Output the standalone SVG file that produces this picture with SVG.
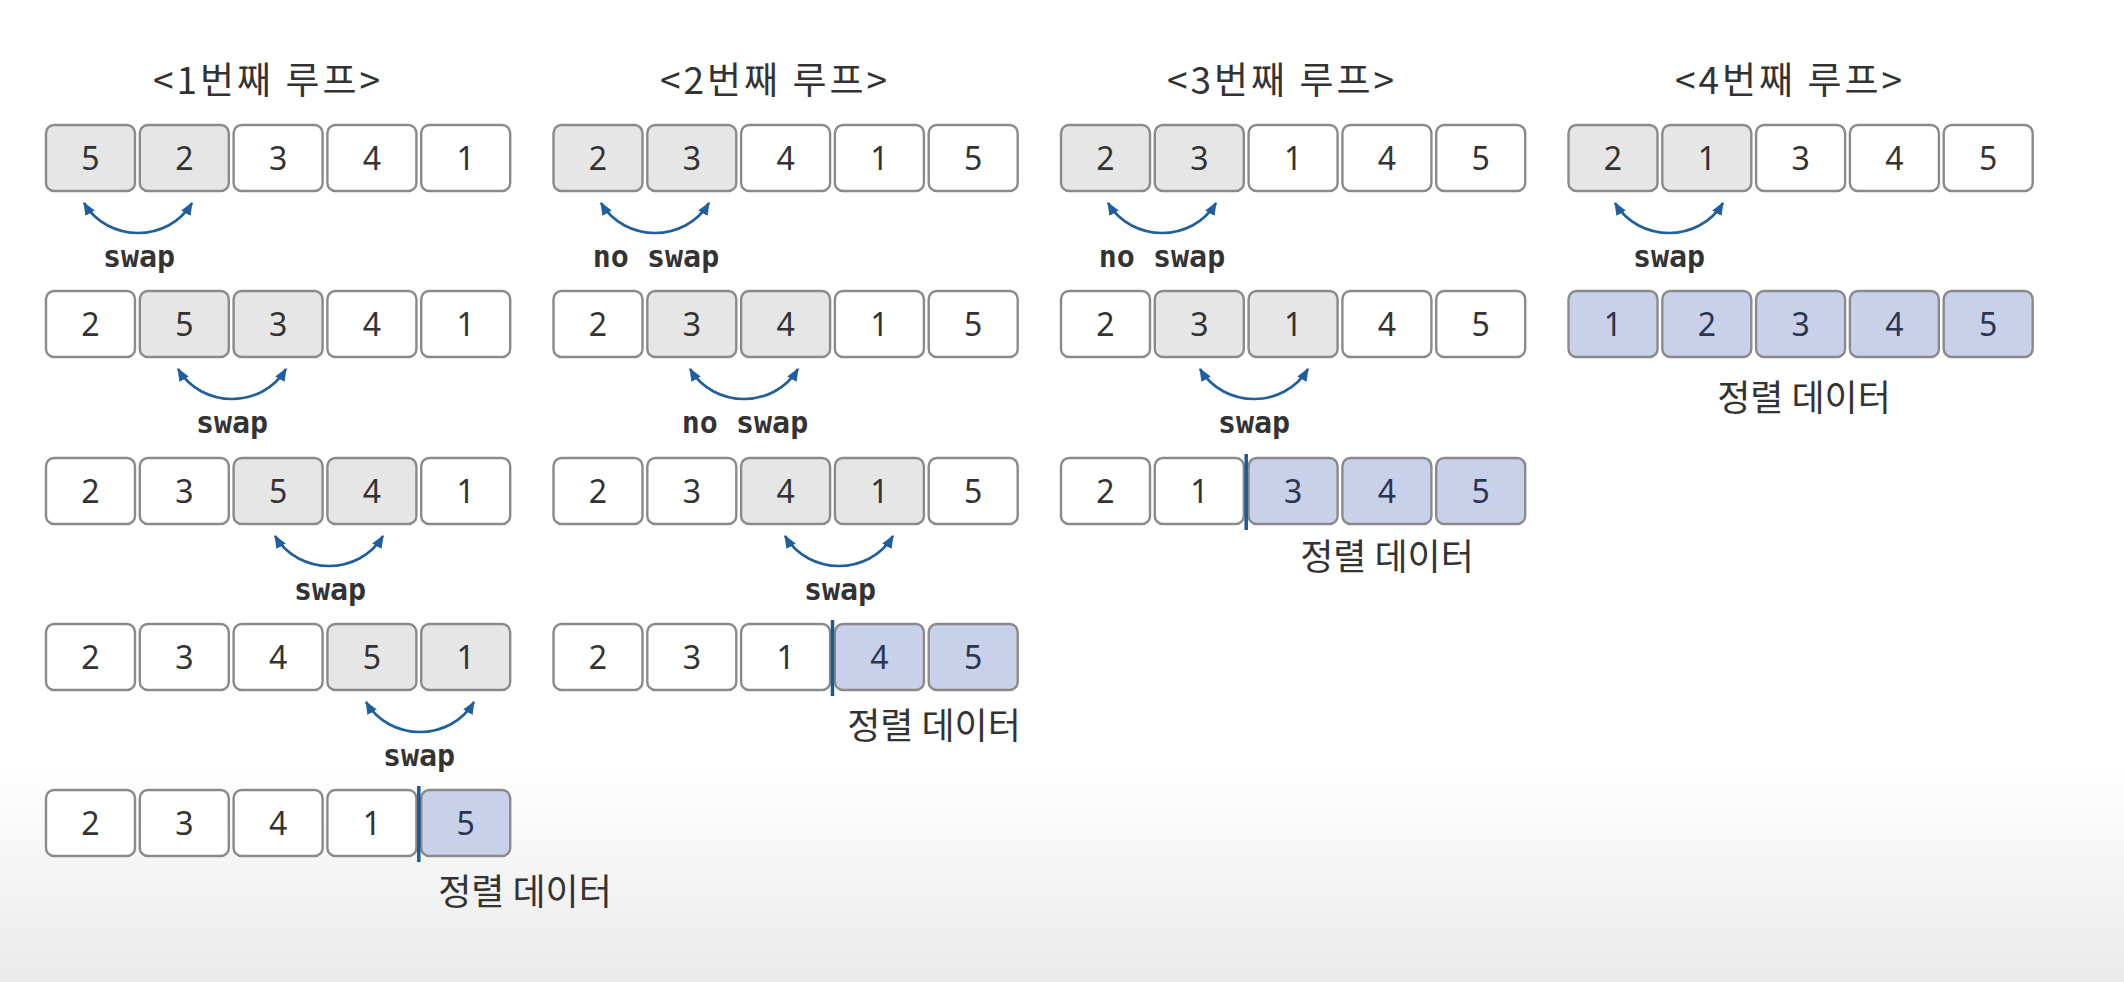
<svg xmlns="http://www.w3.org/2000/svg" width="2124" height="982" viewBox="0 0 2124 982">
<defs>
<linearGradient id="bg" x1="0" y1="0" x2="0" y2="1">
<stop offset="0" stop-color="#ffffff"/>
<stop offset="0.78" stop-color="#ffffff"/>
<stop offset="1" stop-color="#eaeaea"/>
</linearGradient>
<marker id="ah" viewBox="0 0 12 10" refX="11" refY="5" markerWidth="13" markerHeight="11" markerUnits="userSpaceOnUse" orient="auto-start-reverse">
<path d="M0,0 L12,5 L0,10 Z" fill="#1f5f9e"/>
</marker>
<style>
.box rect{fill:#ffffff;stroke:#8a8a8a;stroke-width:2.4}
.g rect{fill:#e6e6e6}
.s rect{fill:#c9d1ea}
.box text{font-family:"Noto Sans","Open Sans",sans-serif;font-size:32px;fill:#333333;text-anchor:middle}
.s text{fill:#2b3550}
.title{font-family:"Noto Sans CJK KR","Noto Sans",sans-serif;font-size:37px;fill:#333333;text-anchor:middle;letter-spacing:3px}
.lbl{font-family:"DejaVu Sans Mono","Liberation Mono",monospace;font-size:30px;font-weight:bold;fill:#333333;text-anchor:middle}
.sorted{font-family:"Noto Sans CJK KR","Noto Sans",sans-serif;font-size:36px;fill:#333333;text-anchor:middle}
.arc{fill:none;stroke:#1f5f9e;stroke-width:2.6;marker-start:url(#ah);marker-end:url(#ah)}
.sep{stroke:#1d5a8e;stroke-width:3.5}
</style>
</defs>
<rect width="2124" height="982" fill="url(#bg)"/>

<g id="titles">
<text class="title" x="268" y="94">&lt;1번째 루프&gt;</text>
<text class="title" x="775" y="94">&lt;2번째 루프&gt;</text>
<text class="title" x="1282" y="94">&lt;3번째 루프&gt;</text>
<text class="title" x="1790" y="94">&lt;4번째 루프&gt;</text>
</g>

<!-- Loop 1 -->
<g id="c1r1b1" class="box g" transform="translate(46,125)"><rect width="89" height="66" rx="8"/><text x="44.5" y="45">5</text></g>
<g id="c1r1b2" class="box g" transform="translate(139.8,125)"><rect width="89" height="66" rx="8"/><text x="44.5" y="45">2</text></g>
<g id="c1r1b3" class="box" transform="translate(233.6,125)"><rect width="89" height="66" rx="8"/><text x="44.5" y="45">3</text></g>
<g id="c1r1b4" class="box" transform="translate(327.4,125)"><rect width="89" height="66" rx="8"/><text x="44.5" y="45">4</text></g>
<g id="c1r1b5" class="box" transform="translate(421.2,125)"><rect width="89" height="66" rx="8"/><text x="44.5" y="45">1</text></g>

<g id="c1r2b1" class="box" transform="translate(46,291)"><rect width="89" height="66" rx="8"/><text x="44.5" y="45">2</text></g>
<g id="c1r2b2" class="box g" transform="translate(139.8,291)"><rect width="89" height="66" rx="8"/><text x="44.5" y="45">5</text></g>
<g id="c1r2b3" class="box g" transform="translate(233.6,291)"><rect width="89" height="66" rx="8"/><text x="44.5" y="45">3</text></g>
<g id="c1r2b4" class="box" transform="translate(327.4,291)"><rect width="89" height="66" rx="8"/><text x="44.5" y="45">4</text></g>
<g id="c1r2b5" class="box" transform="translate(421.2,291)"><rect width="89" height="66" rx="8"/><text x="44.5" y="45">1</text></g>

<g id="c1r3b1" class="box" transform="translate(46,458)"><rect width="89" height="66" rx="8"/><text x="44.5" y="45">2</text></g>
<g id="c1r3b2" class="box" transform="translate(139.8,458)"><rect width="89" height="66" rx="8"/><text x="44.5" y="45">3</text></g>
<g id="c1r3b3" class="box g" transform="translate(233.6,458)"><rect width="89" height="66" rx="8"/><text x="44.5" y="45">5</text></g>
<g id="c1r3b4" class="box g" transform="translate(327.4,458)"><rect width="89" height="66" rx="8"/><text x="44.5" y="45">4</text></g>
<g id="c1r3b5" class="box" transform="translate(421.2,458)"><rect width="89" height="66" rx="8"/><text x="44.5" y="45">1</text></g>

<g id="c1r4b1" class="box" transform="translate(46,624)"><rect width="89" height="66" rx="8"/><text x="44.5" y="45">2</text></g>
<g id="c1r4b2" class="box" transform="translate(139.8,624)"><rect width="89" height="66" rx="8"/><text x="44.5" y="45">3</text></g>
<g id="c1r4b3" class="box" transform="translate(233.6,624)"><rect width="89" height="66" rx="8"/><text x="44.5" y="45">4</text></g>
<g id="c1r4b4" class="box g" transform="translate(327.4,624)"><rect width="89" height="66" rx="8"/><text x="44.5" y="45">5</text></g>
<g id="c1r4b5" class="box g" transform="translate(421.2,624)"><rect width="89" height="66" rx="8"/><text x="44.5" y="45">1</text></g>

<g id="c1r5b1" class="box" transform="translate(46,790)"><rect width="89" height="66" rx="8"/><text x="44.5" y="45">2</text></g>
<g id="c1r5b2" class="box" transform="translate(139.8,790)"><rect width="89" height="66" rx="8"/><text x="44.5" y="45">3</text></g>
<g id="c1r5b3" class="box" transform="translate(233.6,790)"><rect width="89" height="66" rx="8"/><text x="44.5" y="45">4</text></g>
<g id="c1r5b4" class="box" transform="translate(327.4,790)"><rect width="89" height="66" rx="8"/><text x="44.5" y="45">1</text></g>
<g id="c1r5b5" class="box s" transform="translate(421.2,790)"><rect width="89" height="66" rx="8"/><text x="44.5" y="45">5</text></g>

<!-- Loop 2 -->
<g id="c2r1b1" class="box g" transform="translate(553.5,125)"><rect width="89" height="66" rx="8"/><text x="44.5" y="45">2</text></g>
<g id="c2r1b2" class="box g" transform="translate(647.3,125)"><rect width="89" height="66" rx="8"/><text x="44.5" y="45">3</text></g>
<g id="c2r1b3" class="box" transform="translate(741.1,125)"><rect width="89" height="66" rx="8"/><text x="44.5" y="45">4</text></g>
<g id="c2r1b4" class="box" transform="translate(834.9,125)"><rect width="89" height="66" rx="8"/><text x="44.5" y="45">1</text></g>
<g id="c2r1b5" class="box" transform="translate(928.7,125)"><rect width="89" height="66" rx="8"/><text x="44.5" y="45">5</text></g>

<g id="c2r2b1" class="box" transform="translate(553.5,291)"><rect width="89" height="66" rx="8"/><text x="44.5" y="45">2</text></g>
<g id="c2r2b2" class="box g" transform="translate(647.3,291)"><rect width="89" height="66" rx="8"/><text x="44.5" y="45">3</text></g>
<g id="c2r2b3" class="box g" transform="translate(741.1,291)"><rect width="89" height="66" rx="8"/><text x="44.5" y="45">4</text></g>
<g id="c2r2b4" class="box" transform="translate(834.9,291)"><rect width="89" height="66" rx="8"/><text x="44.5" y="45">1</text></g>
<g id="c2r2b5" class="box" transform="translate(928.7,291)"><rect width="89" height="66" rx="8"/><text x="44.5" y="45">5</text></g>

<g id="c2r3b1" class="box" transform="translate(553.5,458)"><rect width="89" height="66" rx="8"/><text x="44.5" y="45">2</text></g>
<g id="c2r3b2" class="box" transform="translate(647.3,458)"><rect width="89" height="66" rx="8"/><text x="44.5" y="45">3</text></g>
<g id="c2r3b3" class="box g" transform="translate(741.1,458)"><rect width="89" height="66" rx="8"/><text x="44.5" y="45">4</text></g>
<g id="c2r3b4" class="box g" transform="translate(834.9,458)"><rect width="89" height="66" rx="8"/><text x="44.5" y="45">1</text></g>
<g id="c2r3b5" class="box" transform="translate(928.7,458)"><rect width="89" height="66" rx="8"/><text x="44.5" y="45">5</text></g>

<g id="c2r4b1" class="box" transform="translate(553.5,624)"><rect width="89" height="66" rx="8"/><text x="44.5" y="45">2</text></g>
<g id="c2r4b2" class="box" transform="translate(647.3,624)"><rect width="89" height="66" rx="8"/><text x="44.5" y="45">3</text></g>
<g id="c2r4b3" class="box" transform="translate(741.1,624)"><rect width="89" height="66" rx="8"/><text x="44.5" y="45">1</text></g>
<g id="c2r4b4" class="box s" transform="translate(834.9,624)"><rect width="89" height="66" rx="8"/><text x="44.5" y="45">4</text></g>
<g id="c2r4b5" class="box s" transform="translate(928.7,624)"><rect width="89" height="66" rx="8"/><text x="44.5" y="45">5</text></g>

<!-- Loop 3 -->
<g id="c3r1b1" class="box g" transform="translate(1061,125)"><rect width="89" height="66" rx="8"/><text x="44.5" y="45">2</text></g>
<g id="c3r1b2" class="box g" transform="translate(1154.8,125)"><rect width="89" height="66" rx="8"/><text x="44.5" y="45">3</text></g>
<g id="c3r1b3" class="box" transform="translate(1248.6,125)"><rect width="89" height="66" rx="8"/><text x="44.5" y="45">1</text></g>
<g id="c3r1b4" class="box" transform="translate(1342.4,125)"><rect width="89" height="66" rx="8"/><text x="44.5" y="45">4</text></g>
<g id="c3r1b5" class="box" transform="translate(1436.2,125)"><rect width="89" height="66" rx="8"/><text x="44.5" y="45">5</text></g>

<g id="c3r2b1" class="box" transform="translate(1061,291)"><rect width="89" height="66" rx="8"/><text x="44.5" y="45">2</text></g>
<g id="c3r2b2" class="box g" transform="translate(1154.8,291)"><rect width="89" height="66" rx="8"/><text x="44.5" y="45">3</text></g>
<g id="c3r2b3" class="box g" transform="translate(1248.6,291)"><rect width="89" height="66" rx="8"/><text x="44.5" y="45">1</text></g>
<g id="c3r2b4" class="box" transform="translate(1342.4,291)"><rect width="89" height="66" rx="8"/><text x="44.5" y="45">4</text></g>
<g id="c3r2b5" class="box" transform="translate(1436.2,291)"><rect width="89" height="66" rx="8"/><text x="44.5" y="45">5</text></g>

<g id="c3r3b1" class="box" transform="translate(1061,458)"><rect width="89" height="66" rx="8"/><text x="44.5" y="45">2</text></g>
<g id="c3r3b2" class="box" transform="translate(1154.8,458)"><rect width="89" height="66" rx="8"/><text x="44.5" y="45">1</text></g>
<g id="c3r3b3" class="box s" transform="translate(1248.6,458)"><rect width="89" height="66" rx="8"/><text x="44.5" y="45">3</text></g>
<g id="c3r3b4" class="box s" transform="translate(1342.4,458)"><rect width="89" height="66" rx="8"/><text x="44.5" y="45">4</text></g>
<g id="c3r3b5" class="box s" transform="translate(1436.2,458)"><rect width="89" height="66" rx="8"/><text x="44.5" y="45">5</text></g>

<!-- Loop 4 -->
<g id="c4r1b1" class="box g" transform="translate(1568.5,125)"><rect width="89" height="66" rx="8"/><text x="44.5" y="45">2</text></g>
<g id="c4r1b2" class="box g" transform="translate(1662.3,125)"><rect width="89" height="66" rx="8"/><text x="44.5" y="45">1</text></g>
<g id="c4r1b3" class="box" transform="translate(1756.1,125)"><rect width="89" height="66" rx="8"/><text x="44.5" y="45">3</text></g>
<g id="c4r1b4" class="box" transform="translate(1849.9,125)"><rect width="89" height="66" rx="8"/><text x="44.5" y="45">4</text></g>
<g id="c4r1b5" class="box" transform="translate(1943.7,125)"><rect width="89" height="66" rx="8"/><text x="44.5" y="45">5</text></g>

<g id="c4r2b1" class="box s" transform="translate(1568.5,291)"><rect width="89" height="66" rx="8"/><text x="44.5" y="45">1</text></g>
<g id="c4r2b2" class="box s" transform="translate(1662.3,291)"><rect width="89" height="66" rx="8"/><text x="44.5" y="45">2</text></g>
<g id="c4r2b3" class="box s" transform="translate(1756.1,291)"><rect width="89" height="66" rx="8"/><text x="44.5" y="45">3</text></g>
<g id="c4r2b4" class="box s" transform="translate(1849.9,291)"><rect width="89" height="66" rx="8"/><text x="44.5" y="45">4</text></g>
<g id="c4r2b5" class="box s" transform="translate(1943.7,291)"><rect width="89" height="66" rx="8"/><text x="44.5" y="45">5</text></g>

<!-- separators -->
<g id="separators">
<line class="sep" x1="418.8" y1="786" x2="418.8" y2="862"/>
<line class="sep" x1="832.5" y1="620" x2="832.5" y2="696"/>
<line class="sep" x1="1246.2" y1="454" x2="1246.2" y2="530"/>
</g>

<!-- connectors -->
<g id="connectors">
<path class="arc" d="M84,203 C108,243 168,243 192,203"/>
<path class="arc" d="M178,369 C202,409 262,409 286,369"/>
<path class="arc" d="M275,536 C299,576 359,576 383,536"/>
<path class="arc" d="M366,702 C390,742 450,742 474,702"/>
<path class="arc" d="M601,203 C625,243 685,243 709,203"/>
<path class="arc" d="M690,369 C714,409 774,409 798,369"/>
<path class="arc" d="M785,536 C809,576 869,576 893,536"/>
<path class="arc" d="M1108,203 C1132,243 1192,243 1216,203"/>
<path class="arc" d="M1200,369 C1224,409 1284,409 1308,369"/>
<path class="arc" d="M1615,203 C1639,243 1699,243 1723,203"/>
</g>

<g id="labels">
<text class="lbl" x="139" y="267">swap</text>
<text class="lbl" x="232" y="433">swap</text>
<text class="lbl" x="330" y="600">swap</text>
<text class="lbl" x="419" y="766">swap</text>
<text class="lbl" x="656" y="267">no swap</text>
<text class="lbl" x="745" y="433">no swap</text>
<text class="lbl" x="840" y="600">swap</text>
<text class="lbl" x="1162" y="267">no swap</text>
<text class="lbl" x="1254" y="433">swap</text>
<text class="lbl" x="1669" y="267">swap</text>
</g>

<g id="sorted-labels">
<text class="sorted" x="525" y="905">정렬 데이터</text>
<text class="sorted" x="934" y="739">정렬 데이터</text>
<text class="sorted" x="1387" y="570">정렬 데이터</text>
<text class="sorted" x="1804" y="411">정렬 데이터</text>
</g>
</svg>
